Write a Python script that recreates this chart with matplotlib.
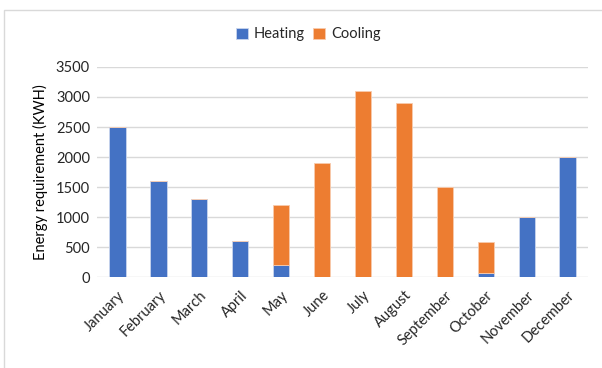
import matplotlib.pyplot as plt
import numpy as np
from matplotlib.patches import Rectangle

plt.rcParams['font.family'] = ['Lato', 'DejaVu Sans']

months = ['January', 'February', 'March', 'April', 'May', 'June', 'July',
          'August', 'September', 'October', 'November', 'December']
heating = [2500, 1600, 1300, 600, 200, 0, 0, 0, 0, 70, 1000, 2000]
cooling = [0, 0, 0, 0, 1000, 1900, 3100, 2900, 1500, 510, 0, 0]

blue = '#4472C4'
orange = '#ED7D31'
grid_c = '#D9D9D9'
txt_c = '#262626'

fig = plt.figure(figsize=(6.02, 3.68), dpi=100)
ax = fig.add_axes([0.161, 0.247, 0.816, 0.571])

# light frame around the chart area
fig.patches.append(Rectangle((4 / 602, -0.1), 1.1, (368 - 9.5) / 368 + 0.1,
                             transform=fig.transFigure, fill=False,
                             edgecolor=grid_c, linewidth=1.0))

x = np.arange(len(months))
w = 0.4
ax.bar(x, heating, w, color=blue, edgecolor='#C9D5EE', linewidth=0.6,
       label='Heating', zorder=3)
ax.bar(x, cooling, w, bottom=heating, color=orange, edgecolor='#F8CBAD',
       linewidth=0.6, label='Cooling', zorder=3)

ax.set_xlim(-0.5, len(months) - 0.5)
ax.set_ylim(0, 3500)
ax.set_yticks(range(0, 3501, 500))
ax.yaxis.grid(True, color=grid_c, linewidth=1.0, zorder=0)
for s in ax.spines.values():
    s.set_visible(False)
ax.tick_params(axis='both', length=0, labelsize=10.5, colors=txt_c, pad=5)
ax.set_xticks(x)
ax.set_xticklabels(months, rotation=45, ha='right', rotation_mode='anchor')
ax.tick_params(axis='x', pad=8)
ax.set_ylabel('Energy requirement (KWH)', fontsize=10.5, color='black', labelpad=6)

ax.legend(loc='lower center', bbox_to_anchor=(0.43, 1.06), ncol=2, frameon=False,
          fontsize=10.5, handlelength=0.8, handleheight=0.8, handletextpad=0.4,
          columnspacing=0.6, labelcolor=txt_c)

fig.savefig('out.png', dpi=100)
